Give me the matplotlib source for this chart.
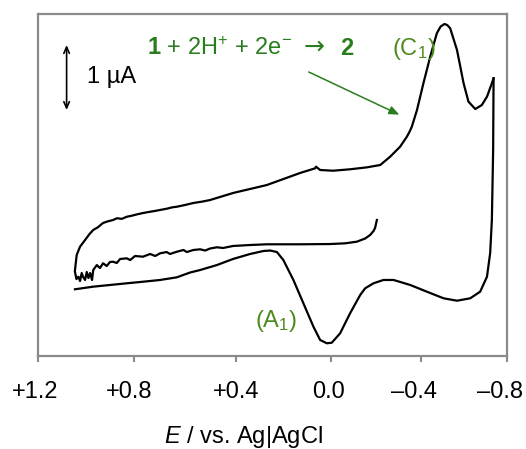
import numpy as np
import matplotlib
matplotlib.use("Agg")
import matplotlib.pyplot as plt
import matplotlib.transforms as mtransforms
from matplotlib.ticker import FixedLocator, FixedFormatter, NullLocator

plt.rcParams['font.family'] = ['Liberation Sans', 'DejaVu Sans']
plt.rcParams['mathtext.fontset'] = 'custom'
plt.rcParams['mathtext.rm'] = 'Liberation Sans'
plt.rcParams['mathtext.it'] = 'Liberation Sans:italic'
plt.rcParams['mathtext.bf'] = 'Liberation Sans:bold'

# ---- data (E in V vs Ag|AgCl, current in uA, cathodic up) ----
TICK_E = [-0.8, -0.4, 0.0, 0.4, 0.8, 1.2]
TICK_LABELS = ["\u20130.8", "\u20130.4", "0.0", "+0.4", "+0.8", "+1.2"]
# spacing of the ticks as printed on the source axis (uneven)
TICK_SPACING = [0.0, 85.0, 175.1, 270.6, 372.6, 468.5]

TOP_E = [1.045, 1.038, 1.024, 1.003, 0.985, 0.969, 0.950, 0.928, 0.910, 0.886,
         0.870, 0.850, 0.829, 0.810, 0.790, 0.764, 0.740, 0.720, 0.697, 0.670,
         0.650, 0.631, 0.600, 0.567, 0.530, 0.501, 0.411, 0.270, 0.131, 0.068,
         0.064, 0.047, -0.008, -0.083, -0.158, -0.217, -0.261, -0.305, -0.335, -0.347,
         -0.357, -0.380, -0.409, -0.441, -0.472, -0.490, -0.508, -0.521, -0.535, -0.567,
         -0.598, -0.621, -0.653, -0.684, -0.708, -0.731, -0.739]
TOP_I = [-0.462, -0.231, -0.103, 0.000, 0.090, 0.154, 0.195, 0.262, 0.285, 0.308,
         0.335, 0.325, 0.358, 0.372, 0.392, 0.415, 0.432, 0.445, 0.462, 0.482,
         0.502, 0.512, 0.538, 0.569, 0.592, 0.615, 0.723, 0.846, 1.031, 1.103,
         1.128, 1.077, 1.066, 1.088, 1.118, 1.154, 1.282, 1.435, 1.589, 1.666,
         1.743, 2.000, 2.411, 2.820, 3.180, 3.285, 3.323, 3.308, 3.257, 2.923,
         2.411, 2.128, 2.015, 2.077, 2.205, 2.411, 2.488]

REV_E = [-0.739, -0.737, -0.731, -0.723, -0.708, -0.676, -0.629, -0.567, -0.504, -0.425,
         -0.350, -0.276, -0.231, -0.187, -0.150, -0.128, -0.083, -0.039, -0.002, 0.019,
         0.047, 0.075, 0.117, 0.159, 0.201, 0.228, 0.256, 0.284, 0.340, 0.411,
         0.474, 0.540, 0.579, 0.631, 0.697, 0.764, 0.829, 0.899, 0.969, 1.045]
REV_I = [2.488, 1.385, 0.308, -0.200, -0.565, -0.795, -0.897, -0.934, -0.897, -0.795,
         -0.692, -0.615, -0.615, -0.666, -0.743, -0.846, -1.128, -1.435, -1.580, -1.589,
         -1.538, -1.334, -0.974, -0.615, -0.308, -0.185, -0.162, -0.169, -0.215, -0.292,
         -0.385, -0.462, -0.500, -0.574, -0.615, -0.642, -0.666, -0.692, -0.718, -0.758]

MID_E = [1.045, 1.039, 1.031, 1.024, 1.017, 1.011, 1.003, 0.996, 0.989, 0.982,
         0.974, 0.969, 0.954, 0.941, 0.928, 0.913, 0.899, 0.886, 0.871, 0.857,
         0.829, 0.815, 0.795, 0.764, 0.736, 0.716, 0.697, 0.671, 0.658, 0.631,
         0.605, 0.592, 0.567, 0.540, 0.520, 0.501, 0.474, 0.450, 0.411, 0.340,
         0.270, 0.131, 0.005, -0.061, -0.113, -0.150, -0.172, -0.187, -0.194, -0.202]
MID_I = [-0.492, -0.600, -0.565, -0.631, -0.508, -0.569, -0.615, -0.492, -0.585, -0.508,
         -0.615, -0.462, -0.385, -0.431, -0.358, -0.400, -0.338, -0.334, -0.354, -0.292,
         -0.282, -0.308, -0.246, -0.257, -0.215, -0.246, -0.205, -0.185, -0.215, -0.180,
         -0.154, -0.185, -0.154, -0.143, -0.162, -0.131, -0.112, -0.123, -0.092, -0.077,
         -0.066, -0.066, -0.062, -0.051, -0.026, 0.023, 0.077, 0.138, 0.185, 0.308]

SCALE_BAR = [2.0, 3.0]  # 1 uA
SCALE_BAR_E = 1.08

# ---- figure ----
fig = plt.figure(figsize=(5.26, 4.49), dpi=100)
ax = fig.add_axes([0.0719, 0.2078, 0.963 - 0.0719, 0.9688 - 0.2078])

def fwd(e):
    return np.interp(np.asarray(e, dtype=float), TICK_E, TICK_SPACING)
def inv(t):
    return np.interp(np.asarray(t, dtype=float), TICK_SPACING, TICK_E)
ax.set_xscale('function', functions=(fwd, inv))

lw = 1.6
ax.plot(TOP_E, TOP_I, color='black', lw=lw, solid_joinstyle='round')
ax.plot(REV_E, REV_I, color='black', lw=lw, solid_joinstyle='round')
ax.plot(MID_E, MID_I, color='black', lw=lw, solid_joinstyle='round')

ax.set_xlim(1.2, -0.8)
ax.set_ylim(-1.780, 3.477)

ax.xaxis.set_major_locator(FixedLocator(TICK_E))
ax.xaxis.set_major_formatter(FixedFormatter(TICK_LABELS))
ax.xaxis.set_minor_locator(NullLocator())
ax.yaxis.set_major_locator(NullLocator())
ax.yaxis.set_minor_locator(NullLocator())

frame_c = '#8a8a8a'
for s in ax.spines.values():
    s.set_color(frame_c)
    s.set_linewidth(1.6)
ax.tick_params(axis='x', direction='out', length=4.5, width=1.5, color=frame_c,
               pad=14, labelsize=17, labelcolor='black')

# small horizontal offsets of the printed tick labels (points)
label_dx = [-5.0, -5.5, -2.0, 0.0, -3.5, -2.0]
for tick, dx in zip(ax.xaxis.get_major_ticks(), label_dx):
    tick.label1.set_transform(tick.label1.get_transform() +
                              mtransforms.ScaledTranslation(dx / 72, 0, fig.dpi_scale_trans))

ax.set_xlabel(r"$\mathit{E}$ / vs. Ag|AgCl", fontsize=17, va='baseline')
ax.xaxis.set_label_coords(0.438, -0.255)

# scale bar
ax.annotate("", xy=(SCALE_BAR_E, SCALE_BAR[0]), xytext=(SCALE_BAR_E, SCALE_BAR[1]),
            arrowprops=dict(arrowstyle='<->,head_length=0.45,head_width=0.2',
                            color='black', lw=1.2, shrinkA=0, shrinkB=0))
ax.text(0.104, 0.797, "1 \u00b5A", transform=ax.transAxes, fontsize=17,
        ha='left', va='baseline')

green = '#2a7d1e'
olive = '#4e8a1c'
ax.text(0.234, 0.880, r"$\mathbf{1}$ + 2H$^{+}$ + 2e$^{-}$",
        transform=ax.transAxes, fontsize=17, color=green, ha='left', va='baseline')
ax.text(0.566, 0.885, "\u2192", transform=ax.transAxes, fontsize=18, color=green,
        ha='left', va='baseline', family=['DejaVu Sans'])
ax.text(0.6448, 0.880, r"$\mathbf{2}$", transform=ax.transAxes, fontsize=17,
        color=green, ha='left', va='baseline')
ax.text(0.7546, 0.880, r"(C$_1$)", transform=ax.transAxes, fontsize=17,
        color=olive, ha='left', va='baseline')
ax.text(0.4638, 0.084, r"(A$_1$)", transform=ax.transAxes, fontsize=17,
        color=olive, ha='left', va='baseline')

ax.annotate("", xy=(0.7713, 0.7054), xytext=(0.578, 0.8303),
            xycoords='axes fraction', textcoords='axes fraction',
            arrowprops=dict(arrowstyle='-|>,head_length=0.6,head_width=0.25',
                            color=green, lw=1.1, shrinkA=0, shrinkB=0))

fig.savefig("out.png", dpi=100)
